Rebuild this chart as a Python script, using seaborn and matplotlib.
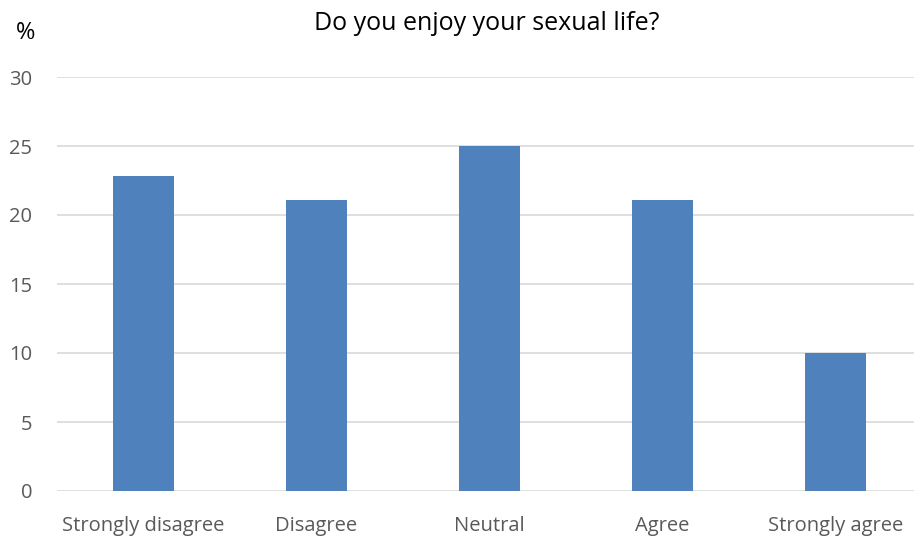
import matplotlib
matplotlib.use("Agg")
import matplotlib.pyplot as plt
import seaborn as sns
import pandas as pd

categories = ["Strongly disagree", "Disagree", "Neutral", "Agree", "Strongly agree"]
percent = [22.8, 21.1, 25.0, 21.1, 10.0]
y_ticks = [0, 5, 10, 15, 20, 25, 30]

df = pd.DataFrame({"answer": categories, "pct": percent})

sns.set_theme(style="white")
plt.rcParams["font.family"] = ["Open Sans", "DejaVu Sans"]

fig = plt.figure(figsize=(9.14, 5.37), dpi=100)
ax = fig.add_axes([57 / 914, 1 - 491 / 537, 1 - 57 / 914, (491 - 77) / 537])

sns.barplot(data=df, x="answer", y="pct", color="#4F81BD", saturation=1,
            width=0.353, linewidth=0, ax=ax)

ax.set_ylim(0, 30)
ax.set_xlim(-0.5, -0.5 + 857 / 173)
ax.set_yticks(y_ticks)
ax.yaxis.grid(True, color="#D9D9D9", linewidth=1.2)
ax.set_axisbelow(True)
for s in ax.spines.values():
    s.set_visible(False)
ax.tick_params(axis="both", length=0, labelsize=14.5, labelcolor="#595959")
ax.tick_params(axis="y", pad=18)
ax.tick_params(axis="x", pad=18)
ax.set_xlabel("")
ax.set_ylabel("")

fig.text(487 / 914, 1 - 23 / 537, "Do you enjoy your sexual life?", ha="center",
         va="center", fontsize=18, color="#000000")
fig.text(26 / 914, 1 - 33 / 537, "%", ha="center", va="center", fontsize=17,
         color="#000000")

fig.savefig("out.png", dpi=100)
